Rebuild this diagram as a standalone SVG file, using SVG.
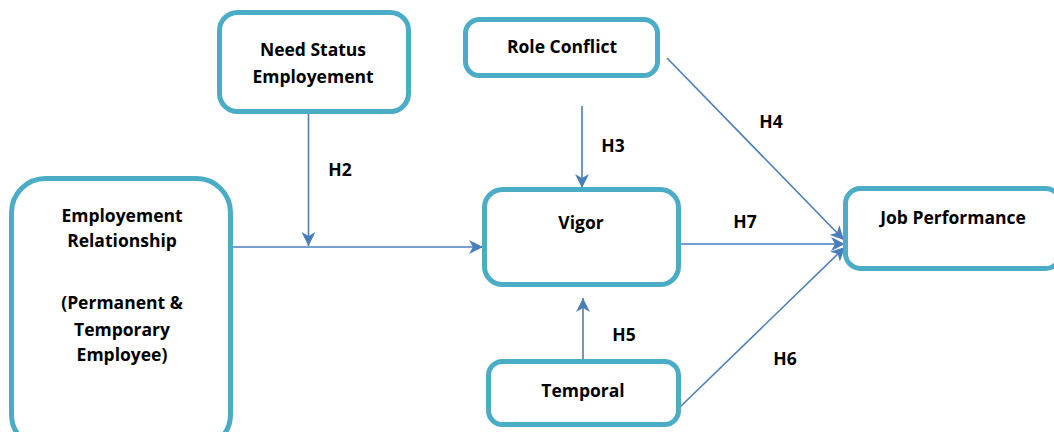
<svg xmlns="http://www.w3.org/2000/svg" width="1054" height="432" viewBox="0 0 1054 432">
<style>
.box{fill:#ffffff;stroke:#4BACC6;stroke-width:5}
.t{font-family:"Open Sans","Liberation Sans",sans-serif;font-weight:bold;font-size:17.5px;fill:#000;text-anchor:middle}
.c{fill:none;stroke:#4A7EBB;stroke-width:1.6}
</style>
<defs>
<marker id="ah" markerUnits="userSpaceOnUse" markerWidth="15" markerHeight="14" refX="14" refY="7" orient="auto">
<path d="M0,0 L14,7 L0,14 L4,7 z" fill="#4A7EBB"/>
</marker>
</defs>
<rect width="1054" height="432" fill="#ffffff"/>
<g id="connectors">
<line class="c" x1="231" y1="247" x2="483" y2="247" marker-end="url(#ah)"/>
<line class="c" x1="308.5" y1="114" x2="308.5" y2="246" marker-end="url(#ah)"/>
<line class="c" x1="582" y1="106" x2="582" y2="188" marker-end="url(#ah)"/>
<line class="c" x1="583" y1="359" x2="583" y2="298" marker-end="url(#ah)"/>
<line class="c" x1="681" y1="244" x2="845" y2="244" marker-end="url(#ah)"/>
<line class="c" x1="667" y1="58" x2="844" y2="240" marker-end="url(#ah)"/>
<line class="c" x1="679" y1="408" x2="845" y2="247" marker-end="url(#ah)"/>
<text class="t" x="340" y="176">H2</text>
<text class="t" x="613" y="152">H3</text>
<text class="t" x="771" y="128">H4</text>
<text class="t" x="624" y="341">H5</text>
<text class="t" x="785" y="365">H6</text>
<text class="t" x="745" y="228">H7</text>
</g>
<g id="need-status">
<rect class="box" x="219.5" y="12.5" width="189" height="99" rx="18"/>
<text class="t" x="313" y="56">Need Status</text>
<text class="t" x="313" y="83">Employement</text>
</g>
<g id="role-conflict">
<rect class="box" x="465.5" y="19.5" width="192" height="56" rx="14"/>
<text class="t" x="562" y="53">Role Conflict</text>
</g>
<g id="employment-relationship">
<rect class="box" x="11.5" y="178.5" width="219" height="270" rx="34"/>
<text class="t" x="122" y="222">Employement</text>
<text class="t" x="122" y="247">Relationship</text>
<text class="t" x="122" y="309">(Permanent &amp;</text>
<text class="t" x="122" y="336">Temporary</text>
<text class="t" x="122" y="361">Employee)</text>
</g>
<g id="vigor">
<rect class="box" x="484.5" y="189.5" width="194" height="95" rx="18"/>
<text class="t" x="581" y="229">Vigor</text>
</g>
<g id="temporal">
<rect class="box" x="488.5" y="361.5" width="190" height="63" rx="14"/>
<text class="t" x="583" y="397">Temporal</text>
</g>
<g id="job-performance">
<rect class="box" x="845.5" y="188.5" width="215" height="80" rx="15"/>
<text class="t" x="953" y="224">Job Performance</text>
</g>
</svg>
